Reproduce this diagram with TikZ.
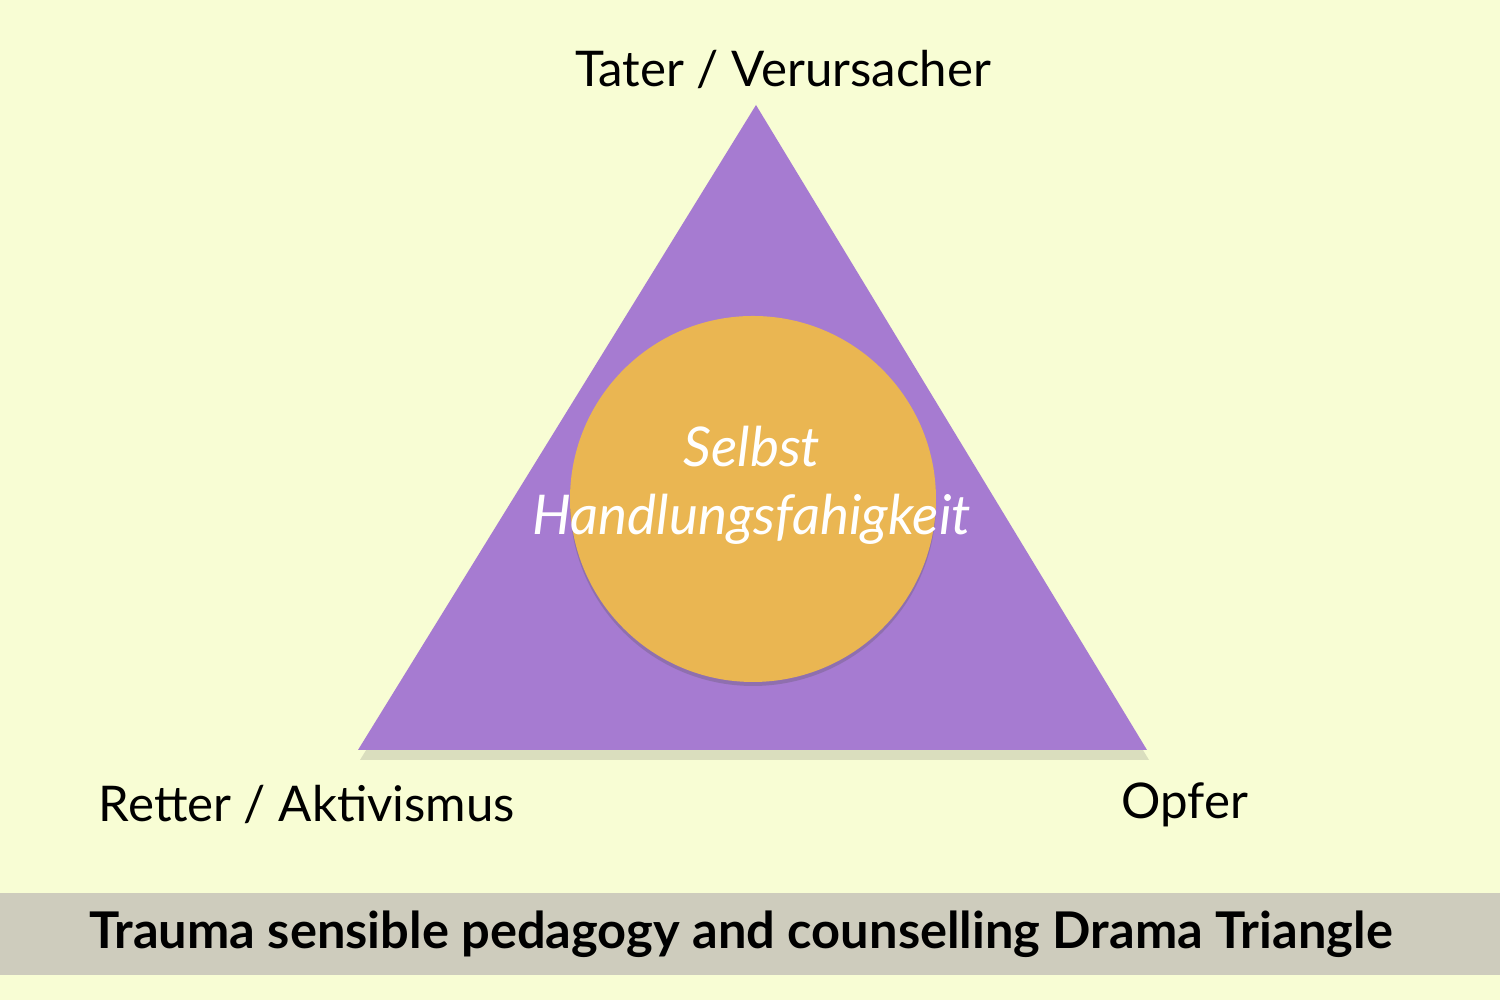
\documentclass[tikz,border=0pt]{standalone}
\usepackage{fontspec}
\setmainfont{Lato}
\usepackage{xcolor}
\usepackage{tikz}
\usetikzlibrary{shadows, positioning}
\definecolor{bgyellow}{RGB}{248,253,212}
\definecolor{bandgray}{RGB}{206,204,189}
\definecolor{trililac}{RGB}{166,123,209}
\definecolor{circorange}{RGB}{234,182,82}

\begin{document}
\begin{tikzpicture}[every node/.style={font=\fontsize{14}{17}\selectfont}]
            \useasboundingbox (0, 0) rectangle (15, 10);
            \fill[bgyellow] (0, 0) rectangle (15, 10);
            \fill[bandgray] (0, 0.25) rectangle (15, 1.07);
            \coordinate (top)   at (7.56, 8.95);
            \coordinate (left)  at (3.58, 2.50);
            \coordinate (right) at (11.47, 2.50);
            \fill[trililac, drop shadow={shadow xshift=0.02cm, shadow yshift=-0.1cm, opacity=0.2, fill=black!60}] (top) -- (right) -- (left) -- cycle;
            \node[circle, fill=circorange, minimum size=3.66cm, drop shadow={shadow xshift=0cm, shadow yshift=-0.04cm, opacity=0.25, fill=black!70}] at (7.53, 5.01) (self) {};
            \node[text=white, align=center, font=\fontsize{15.6}{19.4}\selectfont\itshape] at (7.52, 5.15) (selftext) {Selbst\\Handlungsfahigkeit};
            \node at (7.83, 9.30) (taeter) {Tater / Verursacher};
            \node at (3.07, 1.95) (retter) {Retter / Aktivismus};
            \node at (11.85, 1.95) (opfer) {Opfer};
            \node[font=\fontsize{14.4}{17}\selectfont\bfseries] at (7.41, 0.66) (title) {Trauma sensible pedagogy and counselling Drama Triangle};
        \end{tikzpicture}
\end{document}
